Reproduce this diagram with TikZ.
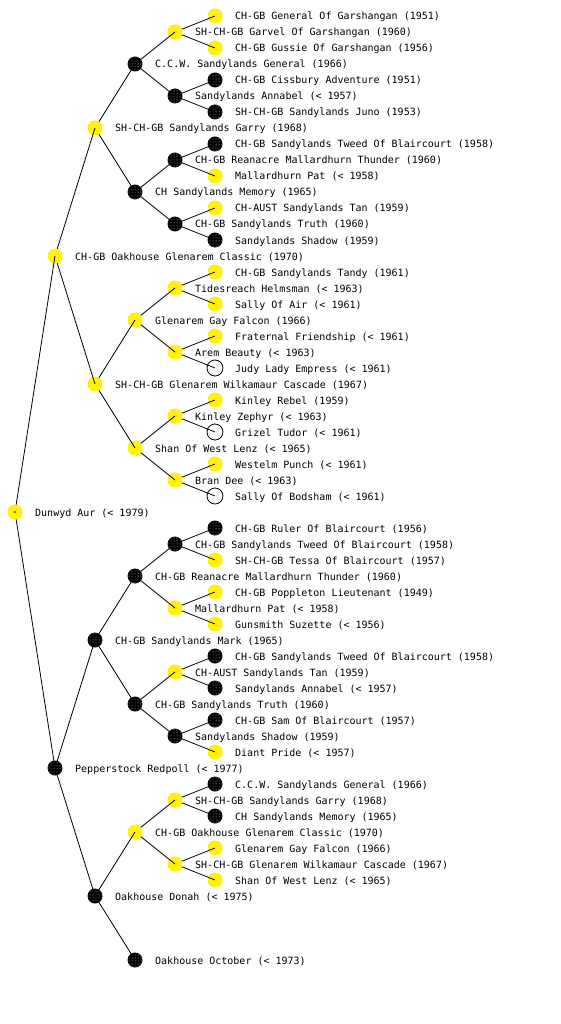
\documentclass[tikz,border=0pt]{standalone}
\usepackage{fontspec}
\setmonofont{DejaVu Sans Mono}
\usetikzlibrary{patterns}
\tikzset{
  mk/.style={circle, inner sep=0pt, minimum size=15pt},
  yel/.style={mk, fill=yellow, postaction={pattern=dots, pattern color=yellow!35}},
  blk/.style={mk, fill=black, postaction={pattern=dots, pattern color=white!70!black}},
  wht/.style={mk, minimum size=16pt, draw=black, line width=0.8pt, fill=white},
  edge/.style={draw=black, line width=0.8pt},
  txt/.style={anchor=base west, inner sep=0pt, font=\ttfamily\fontsize{10pt}{12pt}\selectfont, text=black}
}
\newcommand\dogpt[4]{%
  \coordinate (#1) at ({15+40*#2},#3);
  \node[txt] (#1-t) at ([xshift=20pt,yshift=-4pt]#1) {#4};}
\begin{document}
\begin{tikzpicture}[x=1pt,y=-1pt]
\useasboundingbox (0,0) rectangle (560,1024);
% level 0
\dogpt{r}{0}{512}{Dunwyd Aur (< 1979)}
% level 1
\dogpt{a}{1}{256}{CH-GB Oakhouse Glenarem Classic (1970)}
\dogpt{b}{1}{768}{Pepperstock Redpoll (< 1977)}
% level 2
\dogpt{aa}{2}{128}{SH-CH-GB Sandylands Garry (1968)}
\dogpt{ab}{2}{384}{SH-CH-GB Glenarem Wilkamaur Cascade (1967)}
\dogpt{ba}{2}{640}{CH-GB Sandylands Mark (1965)}
\dogpt{bb}{2}{896}{Oakhouse Donah (< 1975)}
% level 3
\dogpt{aaa}{3}{64}{C.C.W. Sandylands General (1966)}
\dogpt{aab}{3}{192}{CH Sandylands Memory (1965)}
\dogpt{aba}{3}{320}{Glenarem Gay Falcon (1966)}
\dogpt{abb}{3}{448}{Shan Of West Lenz (< 1965)}
\dogpt{baa}{3}{576}{CH-GB Reanacre Mallardhurn Thunder (1960)}
\dogpt{bab}{3}{704}{CH-GB Sandylands Truth (1960)}
\dogpt{bba}{3}{832}{CH-GB Oakhouse Glenarem Classic (1970)}
\dogpt{bbb}{3}{960}{Oakhouse October (< 1973)}
% level 4
\dogpt{aaaa}{4}{32}{SH-CH-GB Garvel Of Garshangan (1960)}
\dogpt{aaab}{4}{96}{Sandylands Annabel (< 1957)}
\dogpt{aaba}{4}{160}{CH-GB Reanacre Mallardhurn Thunder (1960)}
\dogpt{aabb}{4}{224}{CH-GB Sandylands Truth (1960)}
\dogpt{abaa}{4}{288}{Tidesreach Helmsman (< 1963)}
\dogpt{abab}{4}{352}{Arem Beauty (< 1963)}
\dogpt{abba}{4}{416}{Kinley Zephyr (< 1963)}
\dogpt{abbb}{4}{480}{Bran Dee (< 1963)}
\dogpt{baaa}{4}{544}{CH-GB Sandylands Tweed Of Blaircourt (1958)}
\dogpt{baab}{4}{608}{Mallardhurn Pat (< 1958)}
\dogpt{baba}{4}{672}{CH-AUST Sandylands Tan (1959)}
\dogpt{babb}{4}{736}{Sandylands Shadow (1959)}
\dogpt{bbaa}{4}{800}{SH-CH-GB Sandylands Garry (1968)}
\dogpt{bbab}{4}{864}{SH-CH-GB Glenarem Wilkamaur Cascade (1967)}
% level 5
\dogpt{aaaaa}{5}{16}{CH-GB General Of Garshangan (1951)}
\dogpt{aaaab}{5}{48}{CH-GB Gussie Of Garshangan (1956)}
\dogpt{aaaba}{5}{80}{CH-GB Cissbury Adventure (1951)}
\dogpt{aaabb}{5}{112}{SH-CH-GB Sandylands Juno (1953)}
\dogpt{aabaa}{5}{144}{CH-GB Sandylands Tweed Of Blaircourt (1958)}
\dogpt{aabab}{5}{176}{Mallardhurn Pat (< 1958)}
\dogpt{aabba}{5}{208}{CH-AUST Sandylands Tan (1959)}
\dogpt{aabbb}{5}{240}{Sandylands Shadow (1959)}
\dogpt{abaaa}{5}{272}{CH-GB Sandylands Tandy (1961)}
\dogpt{abaab}{5}{304}{Sally Of Air (< 1961)}
\dogpt{ababa}{5}{336}{Fraternal Friendship (< 1961)}
\dogpt{ababb}{5}{368}{Judy Lady Empress (< 1961)}
\dogpt{abbaa}{5}{400}{Kinley Rebel (1959)}
\dogpt{abbab}{5}{432}{Grizel Tudor (< 1961)}
\dogpt{abbba}{5}{464}{Westelm Punch (< 1961)}
\dogpt{abbbb}{5}{496}{Sally Of Bodsham (< 1961)}
\dogpt{baaaa}{5}{528}{CH-GB Ruler Of Blaircourt (1956)}
\dogpt{baaab}{5}{560}{SH-CH-GB Tessa Of Blaircourt (1957)}
\dogpt{baaba}{5}{592}{CH-GB Poppleton Lieutenant (1949)}
\dogpt{baabb}{5}{624}{Gunsmith Suzette (< 1956)}
\dogpt{babaa}{5}{656}{CH-GB Sandylands Tweed Of Blaircourt (1958)}
\dogpt{babab}{5}{688}{Sandylands Annabel (< 1957)}
\dogpt{babba}{5}{720}{CH-GB Sam Of Blaircourt (1957)}
\dogpt{babbb}{5}{752}{Diant Pride (< 1957)}
\dogpt{bbaaa}{5}{784}{C.C.W. Sandylands General (1966)}
\dogpt{bbaab}{5}{816}{CH Sandylands Memory (1965)}
\dogpt{bbaba}{5}{848}{Glenarem Gay Falcon (1966)}
\dogpt{bbabb}{5}{880}{Shan Of West Lenz (< 1965)}
% ---- level 5 markers
\foreach \n in {aaaaa,aaaab,aabab,aabba,abaaa,abaab,ababa,abbaa,abbba,baaab,baaba,baabb,babbb,bbaba,bbabb}
  \node[yel] (\n-m) at (\n) {};
\foreach \n in {aaaba,aaabb,aabaa,aabbb,baaaa,babaa,babab,babba,bbaaa,bbaab}
  \node[blk] (\n-m) at (\n) {};
\foreach \n in {ababb,abbab,abbbb}
  \node[wht] (\n-m) at (\n) {};
% ---- edges level 4 -> 5
\foreach \p in {aaaa,aaab,aaba,aabb,abaa,abab,abba,abbb,baaa,baab,baba,babb,bbaa,bbab}
  \draw[edge] (\p) -- (\p a) (\p) -- (\p b);
% ---- level 4 markers
\foreach \n in {aaaa,abaa,abab,abba,abbb,baab,baba,bbaa,bbab}
  \node[yel] (\n-m) at (\n) {};
\foreach \n in {aaab,aaba,aabb,baaa,babb}
  \node[blk] (\n-m) at (\n) {};
% ---- edges level 3 -> 4
\foreach \p in {aaa,aab,aba,abb,baa,bab,bba}
  \draw[edge] (\p) -- (\p a) (\p) -- (\p b);
% ---- level 3 markers
\foreach \n in {aba,abb,bba}
  \node[yel] (\n-m) at (\n) {};
\foreach \n in {aaa,aab,baa,bab,bbb}
  \node[blk] (\n-m) at (\n) {};
% ---- edges level 2 -> 3
\foreach \p in {aa,ab,ba,bb}
  \draw[edge] (\p) -- (\p a) (\p) -- (\p b);
% ---- level 2 markers
\foreach \n in {aa,ab}
  \node[yel] (\n-m) at (\n) {};
\foreach \n in {ba,bb}
  \node[blk] (\n-m) at (\n) {};
% ---- edges level 1 -> 2
\foreach \p in {a,b}
  \draw[edge] (\p) -- (\p a) (\p) -- (\p b);
% ---- level 1 markers
\node[yel] (a-m) at (a) {};
\node[blk] (b-m) at (b) {};
% ---- edges level 0 -> 1
\draw[edge] (r) -- (a) (r) -- (b);
% ---- root marker
\node[yel] (r-m) at (r) {};
\fill[black] (r) circle (0.9pt);
\end{tikzpicture}
\end{document}
